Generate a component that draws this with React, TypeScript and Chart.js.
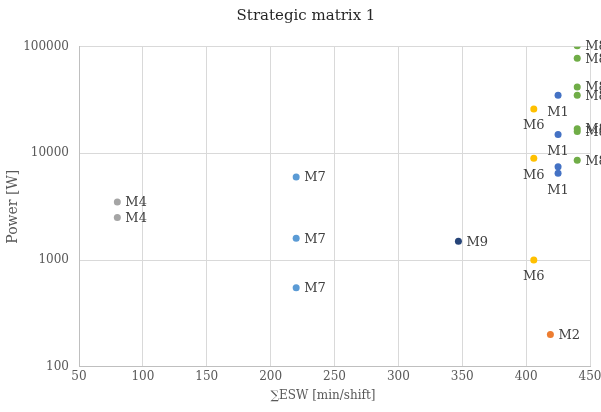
import React, { useEffect, useRef } from "react";
import { Chart, registerables } from "chart.js";

Chart.register(...registerables);

const seriesNames = ["M1", "M2", "M4", "M6", "M7", "M8", "M9"];
const seriesColors = ["#4472C4", "#ED7D31", "#A5A5A5", "#FFC000", "#5B9BD5", "#70AD47", "#264478"];
const labelPlacement = ["below", "right", "right", "below", "right", "right", "right"];

const m1X = [425, 425, 425, 425];
const m1Y = [35000, 15000, 7500, 6500];
const m1Shown = [true, true, false, true];
const m2X = [419];
const m2Y = [200];
const m4X = [80, 80];
const m4Y = [3500, 2500];
const m6X = [406, 406, 406];
const m6Y = [26000, 9000, 1000];
const m7X = [220, 220, 220];
const m7Y = [6000, 1600, 550];
const m8X = [440, 440, 440, 440, 440, 440, 440];
const m8Y = [102000, 78000, 42000, 35000, 17000, 16000, 8600];
const m9X = [347];
const m9Y = [1500];

const seriesX = [m1X, m2X, m4X, m6X, m7X, m8X, m9X];
const seriesY = [m1Y, m2Y, m4Y, m6Y, m7Y, m8Y, m9Y];

const xTicks = [50, 100, 150, 200, 250, 300, 350, 400, 450];
const yTicks = [100, 1000, 10000, 100000];

const chartTitle = "Strategic matrix 1";
const xTitle = "∑ESW [min/shift]";
const yTitle = "Power [W]";

const FONT = "'DejaVu Serif', serif";

const textPlugin = {
  id: "textPlugin",
  afterDatasetsDraw(chart: any) {
    const ctx = chart.ctx;
    ctx.save();
    ctx.font = `13px ${FONT}`;
    ctx.fillStyle = "#404040";
    chart.data.datasets.forEach((ds: any, i: number) => {
      const meta = chart.getDatasetMeta(i);
      const place = labelPlacement[i];
      meta.data.forEach((el: any, j: number) => {
        if (i === 0 && !m1Shown[j]) return;
        ctx.textBaseline = "middle";
        if (place === "below") {
          ctx.textAlign = "center";
          ctx.fillText(ds.label, el.x, el.y + 17);
        } else {
          ctx.textAlign = "left";
          ctx.fillText(ds.label, el.x + 8, el.y + 1);
        }
      });
    });
    const area = chart.chartArea;
    // chart title
    ctx.fillStyle = "#262626";
    ctx.font = `15px ${FONT}`;
    ctx.textAlign = "center";
    ctx.textBaseline = "middle";
    ctx.fillText(chartTitle, 306, 16);
    // x axis title
    ctx.fillStyle = "#595959";
    ctx.font = `12px ${FONT}`;
    ctx.fillText(xTitle, 323, 396);
    // y axis title
    ctx.font = `14px ${FONT}`;
    ctx.translate(13.5, (area.top + area.bottom) / 2);
    ctx.rotate(-Math.PI / 2);
    ctx.fillText(yTitle, 0, 0);
    ctx.restore();
  },
};

export default function App() {
  const ref = useRef<HTMLCanvasElement>(null);
  useEffect(() => {
    if (!ref.current) return;
    const chart = new Chart(ref.current, {
      type: "scatter",
      data: {
        datasets: seriesNames.map((name, i) => ({
          label: name,
          data: seriesX[i].map((x, j) => ({ x, y: seriesY[i][j] })),
          backgroundColor: seriesColors[i],
          borderColor: seriesColors[i],
          pointRadius: 3.5,
          pointBorderWidth: 0,
        })),
      },
      options: {
        animation: false,
        responsive: false,
        layout: { padding: { left: 0, right: 11, top: 46.7, bottom: 0 } },
        plugins: {
          legend: { display: false },
          tooltip: { enabled: false },
          title: { display: false },
        },
        scales: {
          x: {
            type: "linear",
            min: 50,
            max: 450,
            afterBuildTicks: (s: any) => {
              s.ticks = xTicks.map((v) => ({ value: v }));
            },
            afterFit: (s: any) => {
              s.height = 412 - 366.7;
              s.paddingLeft = 0;
              s.paddingRight = 0;
            },
            grid: { color: "#d9d9d9", lineWidth: 1, drawTicks: false },
            border: { color: "#bfbfbf" },
            ticks: {
              color: "#595959",
              font: { family: FONT, size: 12 },
              padding: 3,
              maxRotation: 0,
            },
          },
          y: {
            type: "logarithmic",
            min: 100,
            max: 100000,
            afterBuildTicks: (s: any) => {
              s.ticks = yTicks.map((v) => ({ value: v }));
            },
            afterFit: (s: any) => {
              s.width = 79;
              s.paddingTop = 0;
              s.paddingBottom = 0;
            },
            grid: { color: "#d9d9d9", lineWidth: 1, drawTicks: false },
            border: { color: "#bfbfbf" },
            ticks: {
              color: "#595959",
              font: { family: FONT, size: 12 },
              padding: 10,
              callback: (v: any) => String(v),
            },
          },
        },
      },
      plugins: [textPlugin],
    });
    return () => chart.destroy();
  }, []);
  return (
    <div style={{ position: "absolute", left: 0, top: 0, width: 601, height: 412 }}>
      <canvas ref={ref} width={601} height={412} style={{ display: "block" }} />
    </div>
  );
}
